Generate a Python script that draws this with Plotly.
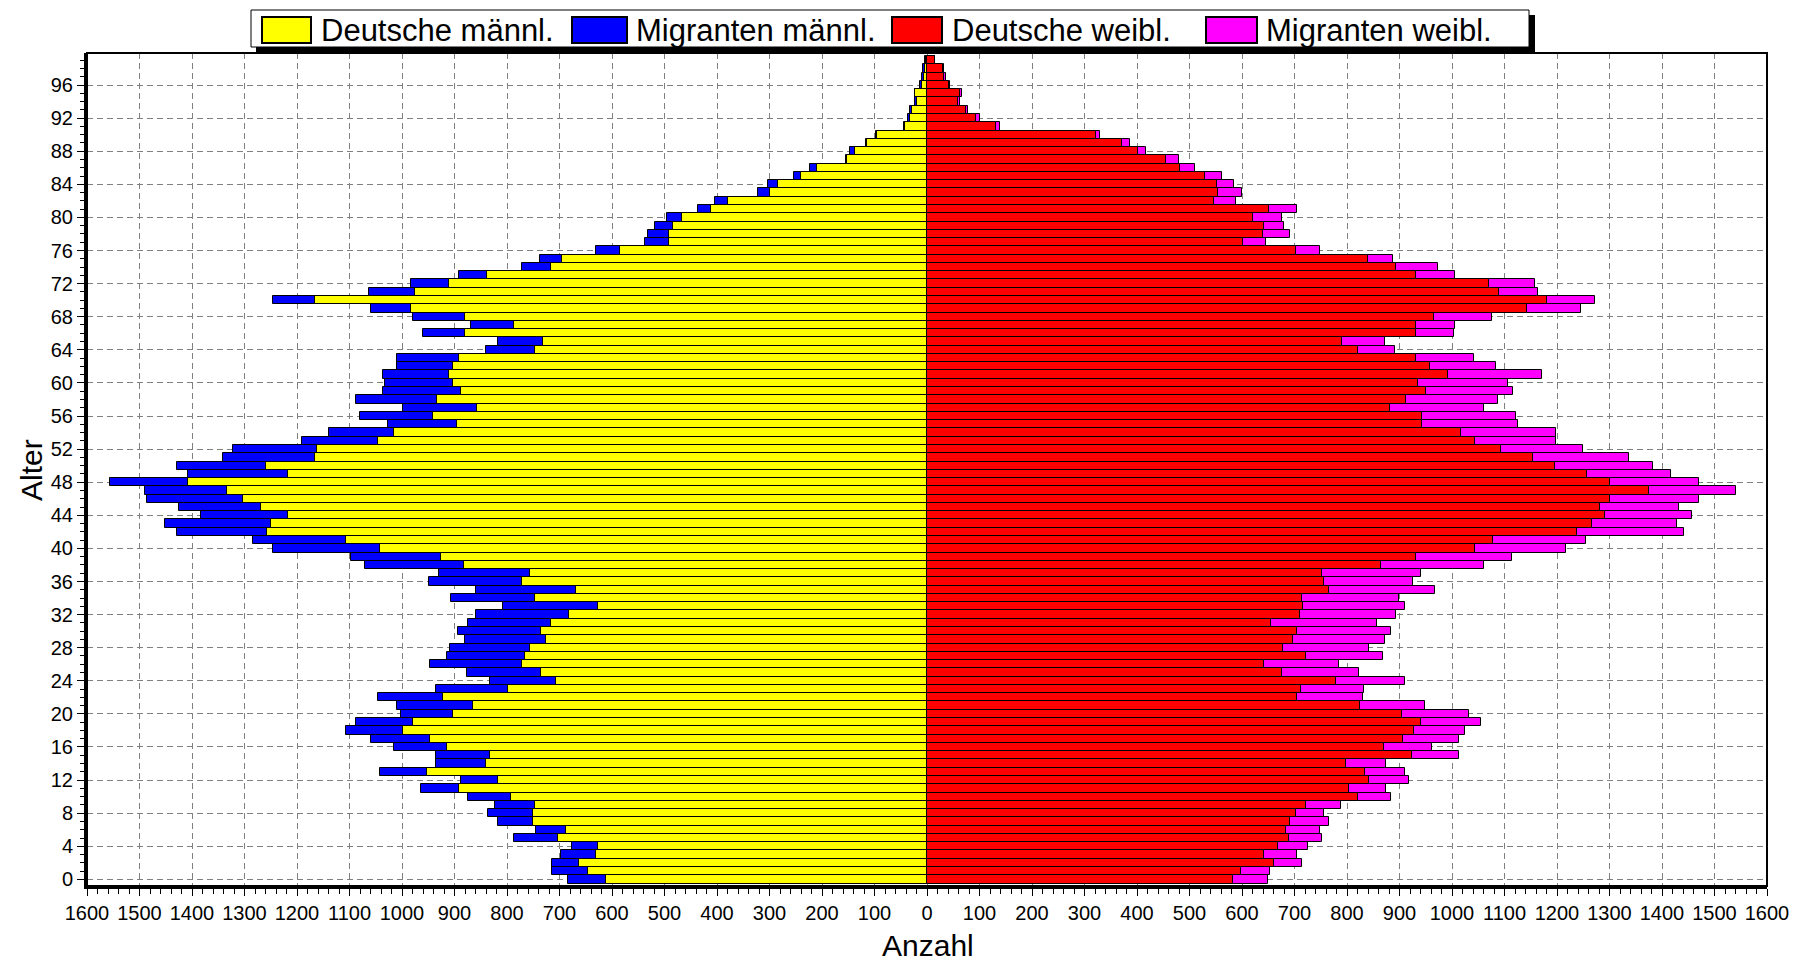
import plotly.graph_objects as go

ages = list(range(100))

deutsche_maennl = [611, 645, 663, 630, 627, 703, 687, 751, 751, 746,
                   792, 891, 817, 953, 840, 833, 915, 946, 999, 979,
                   902, 865, 921, 799, 707, 735, 772, 765, 756, 726,
                   735, 716, 682, 626, 746, 669, 772, 756, 881, 925,
                   1042, 1107, 1257, 1250, 1218, 1269, 1303, 1333, 1407, 1218,
                   1260, 1165, 1161, 1045, 1016, 895, 941, 858, 934, 888,
                   903, 911, 903, 892, 747, 731, 880, 787, 880, 983,
                   1165, 976, 911, 839, 717, 695, 585, 491, 491, 483,
                   466, 411, 379, 299, 283, 240, 210, 153, 137, 115,
                   96, 42, 33, 29, 20, 22, 10, 6, 4, 1]

migranten_maennl = [72, 69, 51, 67, 49, 83, 58, 67, 86, 76,
                    83, 73, 70, 88, 96, 103, 100, 114, 108, 108,
                    100, 144, 124, 137, 126, 141, 174, 149, 153, 154,
                    159, 158, 177, 181, 160, 191, 177, 173, 190, 173,
                    203, 176, 172, 202, 164, 156, 183, 157, 150, 189,
                    169, 176, 160, 145, 124, 131, 139, 140, 154, 148,
                    130, 125, 107, 118, 93, 87, 80, 81, 99, 77,
                    80, 87, 72, 52, 54, 42, 45, 47, 40, 36,
                    30, 26, 25, 23, 20, 13, 13, 2, 9, 2,
                    2, 2, 3, 3, 2, 1, 4, 4, 4, 2]

deutsche_weibl = [583, 599, 661, 642, 668, 690, 683, 692, 703, 721,
                  820, 803, 841, 835, 799, 924, 871, 906, 928, 941,
                  905, 825, 705, 713, 779, 676, 641, 721, 679, 697,
                  705, 655, 710, 717, 714, 766, 756, 752, 864, 931,
                  1044, 1078, 1239, 1267, 1291, 1281, 1300, 1375, 1300, 1257,
                  1197, 1155, 1093, 1044, 1017, 943, 943, 882, 913, 951,
                  935, 993, 958, 931, 820, 790, 931, 931, 966, 1142,
                  1181, 1089, 1070, 931, 894, 840, 702, 602, 640, 641,
                  621, 651, 547, 555, 552, 529, 482, 455, 401, 371,
                  322, 132, 93, 75, 59, 62, 41, 32, 30, 16]

migranten_weibl = [66, 54, 54, 62, 58, 63, 66, 74, 53, 67,
                   64, 72, 77, 75, 76, 90, 90, 108, 97, 115,
                   128, 123, 125, 119, 131, 146, 143, 147, 162, 176,
                   178, 202, 184, 193, 185, 202, 169, 189, 197, 183,
                   173, 177, 202, 162, 166, 151, 171, 166, 171, 160,
                   186, 182, 156, 155, 182, 183, 179, 179, 175, 166,
                   172, 179, 126, 111, 72, 83, 72, 75, 110, 103,
                   91, 75, 88, 75, 79, 48, 47, 44, 52, 39,
                   56, 53, 41, 45, 33, 32, 28, 25, 17, 16,
                   7, 7, 7, 3, 3, 4, 3, 5, 2, 0]

series_names = ["Deutsche männl.", "Migranten männl.", "Deutsche weibl.", "Migranten weibl."]
series_colors = ["#FFFF00", "#0000FF", "#FF0000", "#FF00FF"]

x_tick_values = list(range(-1600, 1601, 100))
x_tick_labels = [str(abs(v)) for v in x_tick_values]
y_tick_values = list(range(0, 97, 4))

FONT = "Liberation Sans, Arial, sans-serif"

fig = go.Figure()
data = [
    [-v for v in deutsche_maennl],
    [-v for v in migranten_maennl],
    deutsche_weibl,
    migranten_weibl,
]
for name, col, vals in zip(series_names, series_colors, data):
    fig.add_trace(go.Bar(
        y=ages, x=vals, orientation="h", name=name,
        marker=dict(color=col, line=dict(color="black", width=1)),
        width=1, showlegend=False,
    ))

# page has an 8px body margin; figure is placed at (8, 8)
OFF = 8
FIG_W, FIG_H = 1797, 956
# plot area in page pixels
L, R, T, B = 87, 1767, 53, 886
def px(xp):
    return (xp - L) / (R - L)
def py(yp):
    return (B - yp) / (B - T)

shapes = []
shapes.append(dict(type="rect", xref="paper", yref="paper", x0=0, x1=1, y0=0, y1=1,
                   line=dict(color="black", width=2), layer="above"))
shapes.append(dict(type="rect", xref="paper", yref="paper",
                   x0=px(256), x1=px(1535), y0=py(53), y1=py(15),
                   fillcolor="black", line=dict(width=0), layer="above"))
shapes.append(dict(type="rect", xref="paper", yref="paper",
                   x0=px(251), x1=px(1529), y0=py(47), y1=py(10),
                   fillcolor="white", line=dict(color="black", width=1), layer="above"))
legend_boxes = [(262, 311), (572, 627), (892, 942), (1206, 1257)]
legend_text_x = [319, 634, 950, 1264]
annotations = []
for (x0, x1), tx, name, col in zip(legend_boxes, legend_text_x, series_names, series_colors):
    shapes.append(dict(type="rect", xref="paper", yref="paper",
                       x0=px(x0), x1=px(x1), y0=py(43), y1=py(17),
                       fillcolor=col, line=dict(color="black", width=2), layer="above"))
    annotations.append(dict(text=name, xref="paper", yref="paper", x=px(tx), y=py(30),
                            xanchor="left", yanchor="middle", showarrow=False,
                            font=dict(family=FONT, size=31, color="black")))

annotations.append(dict(text="Alter", xref="paper", yref="paper", x=px(31), y=py(470),
                        xanchor="center", yanchor="middle", textangle=-90, showarrow=False,
                        font=dict(family=FONT, size=30, color="black")))
annotations.append(dict(text="Anzahl", xref="paper", yref="paper", x=px(928), y=py(945),
                        xanchor="center", yanchor="middle", showarrow=False,
                        font=dict(family=FONT, size=30, color="black")))

fig.update_layout(
    width=FIG_W, height=FIG_H,
    margin=dict(l=L - OFF, r=FIG_W + OFF - R, t=T - OFF, b=FIG_H + OFF - B),
    paper_bgcolor="white", plot_bgcolor="white",
    barmode="relative", bargap=0,
    shapes=shapes, annotations=annotations,
    font=dict(family=FONT, size=20, color="black"),
)
fig.update_xaxes(
    range=[-1600, 1600], tickvals=x_tick_values, ticktext=x_tick_labels,
    showgrid=True, gridcolor="#808080", griddash="6px,4px", gridwidth=1,
    zeroline=False, showline=True, linecolor="black", linewidth=3,
    ticks="outside", ticklen=7, tickcolor="black", tickwidth=1,
    minor=dict(dtick=20, ticks="outside", ticklen=5, tickcolor="black", showgrid=False),
    tickfont=dict(family=FONT, size=20, color="black"),
    fixedrange=True,
)
fig.update_yaxes(
    range=[-0.8, 99.87], tickvals=y_tick_values,
    showgrid=True, gridcolor="#808080", griddash="6px,4px", gridwidth=1,
    zeroline=False, showline=True, linecolor="black", linewidth=3,
    ticks="outside", ticklen=7, tickcolor="black", tickwidth=1,
    minor=dict(dtick=1, ticks="outside", ticklen=4, tickcolor="black", showgrid=False),
    tickfont=dict(family=FONT, size=20, color="black"),
    fixedrange=True,
)

fig.write_html("out.html")
